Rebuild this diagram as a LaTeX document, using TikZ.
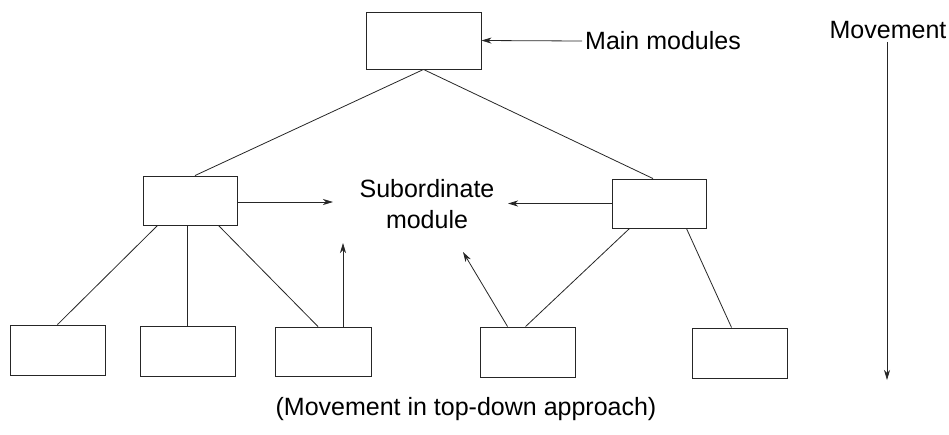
\documentclass[tikz,border=0pt]{standalone}
\usepackage{fontspec}
\setmainfont{Liberation Sans}
\usetikzlibrary{arrows.meta,calc}
\begin{document}
\begin{tikzpicture}[x=1pt,y=-1pt,
  ln/.style={draw=black!85,line width=0.8pt},
  arr/.style={ln,-{Stealth[length=10pt,width=6pt,inset=3pt]}},
  box/.style={draw=black!85,line width=0.9pt,rectangle,inner sep=0pt,minimum width=95pt,minimum height=50pt},
  lbl/.style={font=\fontsize{25}{31}\selectfont,inner sep=3pt,align=center}]
\useasboundingbox (0,0) rectangle (949,434);
% boxes
\node[box,minimum width=115pt,minimum height=57pt] (top) at (423.5,40.5) {};
\node[box,minimum width=94pt,minimum height=49pt] (lmid) at (190,200.5) {};
\node[box,minimum width=94pt,minimum height=49pt] (rmid) at (659,203.5) {};
\node[box] (b1) at (57.5,350) {};
\node[box] (b2) at (187.5,351) {};
\node[box,minimum width=96pt,minimum height=49pt] (b3) at (323,351.5) {};
\node[box] (b4) at (527.5,352) {};
\node[box] (b5) at (739.5,353) {};
% labels
\node[lbl,anchor=west] (main) at (582,41) {Main modules};
\node[lbl] (sub) at (427,204) {Subordinate\\module};
\node[lbl] (mov) at (888,30) {Movement};
\node[lbl] (cap) at (466,409) {(Movement in top-down approach)};
% free ends
\coordinate (sl) at (333,202);
\coordinate (sr) at (508,203.5);
\coordinate (up3) at (343,243);
\coordinate (up4) at (463,252);
\coordinate (movend) at (887,380);
% tree lines
\draw[ln] (top.south) -- ($(lmid.north)+(5,0)$);
\draw[ln] (top.south) -- ($(rmid.north)+(-6,0)$);
\draw[ln] ($(lmid.south west)+(15,0)$) -- (b1.north);
\draw[ln] (b2.north) -- (b2.north |- lmid.south);
\draw[ln] ($(lmid.south east)+(-19,0)$) -- ($(b3.north)+(-5,0)$);
\draw[ln] ($(rmid.south west)+(18,0)$) -- ($(b4.north west)+(46,0)$);
\draw[ln] ($(rmid.south east)+(-20,0)$) -- ($(b5.north west)+(40,0)$);
% arrows
\draw[arr] (main.west) -- (top.east);
\draw[arr] (lmid.east |- sl) -- (sl);
\draw[arr] (rmid.west) -- (sr);
\draw[arr] (b3.north -| up3) -- (up3);
\draw[arr] ($(b4.north west)+(28,0)$) -- (up4);
\draw[arr] (mov.south -| movend) -- (movend);
\end{tikzpicture}
\end{document}
